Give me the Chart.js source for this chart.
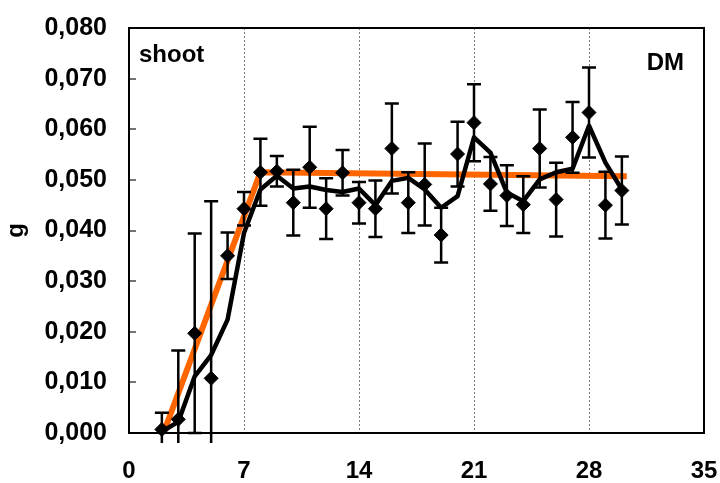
<!DOCTYPE html>
<html>
<head>
<meta charset="utf-8">
<script src="https://cdn.jsdelivr.net/npm/chart.js@4/dist/chart.umd.min.js"></script>
<style>
    html, body { margin: 0; padding: 0; background: #fff; }
    #wrap { width: 720px; height: 483px; }
</style>
</head>
<body>
<div id="wrap"><canvas id="dm-chart" width="720" height="483"></canvas></div>
<script>
// Shoot dry matter (g), days after sowing
const days = [2, 3, 4, 5, 6, 7, 8, 9, 10, 11, 12, 13, 14, 15, 16,
    17, 18, 19, 20, 21, 22, 23, 24, 25, 26, 27, 28, 29, 30];
const means = [0.0007, 0.0027, 0.0197, 0.0108, 0.0350, 0.0443, 0.0515, 0.0517, 0.0455, 0.0525,
    0.0443, 0.0514, 0.0455, 0.0443, 0.0562, 0.0455, 0.0491, 0.0391, 0.0551, 0.0613,
    0.0492, 0.0469, 0.0451, 0.0562, 0.0461, 0.0584, 0.0633, 0.0450, 0.0479];
const errors = [0.0033, 0.0136, 0.0197, 0.0350, 0.0046, 0.0033, 0.0066, 0.0030, 0.0065, 0.0080,
    0.0060, 0.0045, 0.0041, 0.0056, 0.0089, 0.0060, 0.0081, 0.0054, 0.0064, 0.0076,
    0.0053, 0.0060, 0.0056, 0.0077, 0.0073, 0.0070, 0.0089, 0.0066, 0.0067];
// smoothed curve (black)
const smooth = [0.0003, 0.0022, 0.0112, 0.0154, 0.0224, 0.0395, 0.0481, 0.0508, 0.0483, 0.0487,
    0.0480, 0.0476, 0.0483, 0.0450, 0.0498, 0.0504, 0.0481, 0.0445, 0.0468, 0.0584,
    0.0554, 0.0475, 0.0458, 0.0501, 0.0515, 0.0522, 0.0607, 0.0534, 0.0481];
// broken-line fit (orange)
const fitDays = [2.1, 8, 30.3];
const fitValues = [0, 0.0515, 0.0507];

const xTicks = [0, 7, 14, 21, 28, 35];
const FONT = "'Liberation Sans', Arial, sans-serif";

const toPoints = (xs, ys) => xs.map((d, i) => ({ x: d, y: ys[i] }));

// error bars, drawn just before the diamonds
const errorBars = {
    id: 'errorBars',
    beforeDatasetDraw(chart, args) {
        if (args.index !== 0) return;
        const { ctx, chartArea, scales: { x, y } } = chart;
        ctx.save();
        ctx.beginPath();
        ctx.rect(chartArea.left, chartArea.top, chartArea.right - chartArea.left, chartArea.bottom - chartArea.top + 10);
        ctx.clip();
        ctx.strokeStyle = '#000';
        ctx.lineWidth = 2.5;
        days.forEach((d, i) => {
            const px = x.getPixelForValue(d);
            const hi = y.getPixelForValue(means[i] + errors[i]);
            const lo = y.getPixelForValue(means[i] - errors[i]);
            ctx.beginPath();
            ctx.moveTo(px, hi);
            ctx.lineTo(px, lo);
            ctx.moveTo(px - 7, hi);
            ctx.lineTo(px + 7, hi);
            ctx.moveTo(px - 7, lo);
            ctx.lineTo(px + 7, lo);
            ctx.stroke();
        });
        ctx.restore();
    }
};

// frame, inner y ticks and the two labels
const frame = {
    id: 'frame',
    afterDraw(chart) {
        const { ctx, chartArea: a, scales: { y } } = chart;
        ctx.save();
        ctx.strokeStyle = '#444';
        ctx.lineWidth = 1.5;
        y.ticks.forEach(t => {
            const py = Math.round(y.getPixelForValue(t.value));
            ctx.beginPath();
            ctx.moveTo(a.left, py);
            ctx.lineTo(a.left + 7, py);
            ctx.stroke();
        });
        ctx.strokeStyle = '#000';
        ctx.lineWidth = 2;
        ctx.strokeRect(a.left, a.top, a.right - a.left, a.bottom - a.top);

        ctx.fillStyle = '#000';
        ctx.font = 'bold 24px ' + FONT;
        ctx.textAlign = 'left';
        ctx.textBaseline = 'alphabetic';
        ctx.fillText('shoot', a.left + 10, 62);
        ctx.textAlign = 'right';
        ctx.fillText('DM', a.right - 20, 70);
        ctx.restore();
    }
};

new Chart(document.getElementById('dm-chart'), {
    type: 'scatter',
    data: {
        datasets: [
            {
                label: 'mean',
                data: toPoints(days, means),
                pointStyle: 'rectRot',
                pointRadius: 7,
                backgroundColor: '#000',
                borderColor: '#000',
                borderWidth: 1,
                showLine: false,
                clip: false,
                order: 0
            },
            {
                label: 'smoothed',
                data: toPoints(days, smooth),
                showLine: true,
                borderColor: '#000',
                borderWidth: 4.5,
                borderJoinStyle: 'round',
                pointRadius: 0,
                tension: 0,
                order: 1
            },
            {
                label: 'fit',
                data: toPoints(fitDays, fitValues),
                showLine: true,
                borderColor: '#ff6600',
                borderWidth: 6,
                pointRadius: 0,
                tension: 0,
                order: 2
            }
        ]
    },
    options: {
        responsive: false,
        animation: false,
        devicePixelRatio: 1,
        layout: { padding: { top: 28, right: 16, bottom: 0, left: 0 } },
        plugins: {
            legend: { display: false },
            tooltip: { enabled: false }
        },
        scales: {
            x: {
                type: 'linear',
                min: 0,
                max: 35,
                afterBuildTicks: scale => { scale.ticks = xTicks.map(v => ({ value: v })); },
                afterFit: scale => {
                    scale.height = 50;
                    scale.paddingLeft = 0;
                    scale.paddingRight = 0;
                },
                grid: {
                    color: ctx => (ctx.tick && (ctx.tick.value === 0 || ctx.tick.value === 35)) ? 'rgba(0,0,0,0)' : '#7a7a7a',
                    lineWidth: 1,
                    drawTicks: false
                },
                border: { display: false, dash: [2, 2] },
                ticks: {
                    color: '#000',
                    padding: 24,
                    maxRotation: 0,
                    font: { family: FONT, size: 24, weight: 'bold' }
                }
            },
            y: {
                min: 0,
                max: 0.08,
                afterFit: scale => {
                    scale.width = 129;
                    scale.paddingTop = 0;
                    scale.paddingBottom = 0;
                },
                grid: { display: false, drawTicks: false },
                border: { display: false },
                title: {
                    display: true,
                    text: 'g',
                    color: '#000',
                    padding: { top: 2, bottom: 0 },
                    font: { family: FONT, size: 24, weight: 'bold' }
                },
                ticks: {
                    stepSize: 0.01,
                    color: '#000',
                    padding: 22,
                    font: { family: FONT, size: 25, weight: 'bold' },
                    callback: value => value.toFixed(3).replace('.', ',')
                }
            }
        }
    },
    plugins: [errorBars, frame]
});
</script>
</body>
</html>
